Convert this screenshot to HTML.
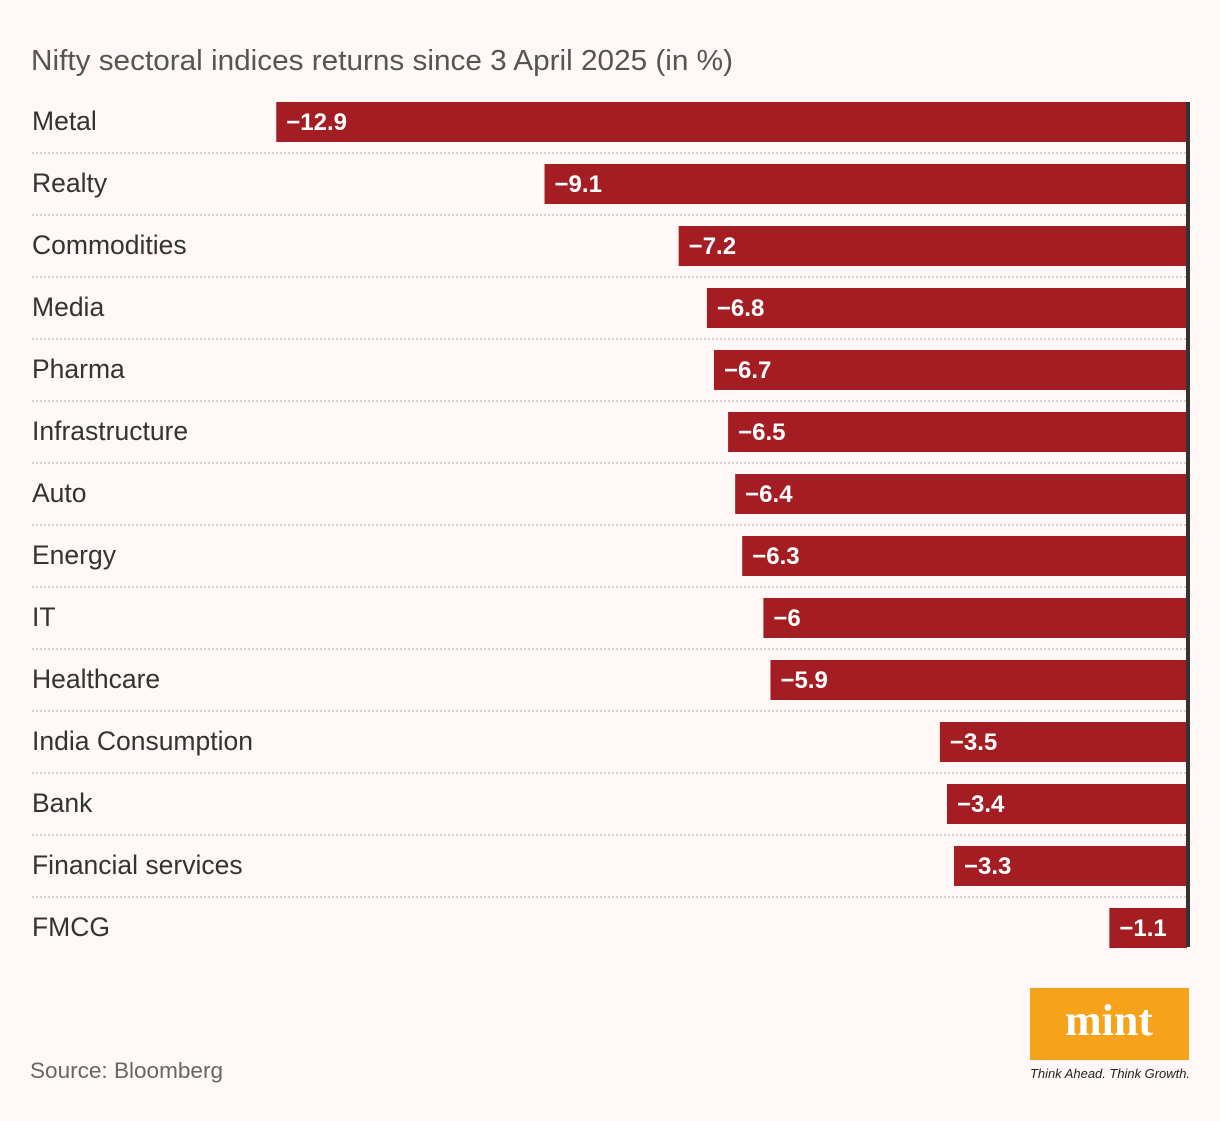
<!DOCTYPE html>
<html><head><meta charset="utf-8"><style>
body{margin:0;background:#fff8f7;width:1220px;height:1116px;overflow:hidden;font-family:"Liberation Sans",sans-serif;}
</style></head><body>
<svg id="chart" width="1220" height="1116" xmlns="http://www.w3.org/2000/svg">
<rect width="1220" height="1116" fill="#fff8f7"/>
<text x="31" y="70" font-size="29" fill="#555" textLength="702" lengthAdjust="spacingAndGlyphs" font-family="Liberation Sans, sans-serif">Nifty sectoral indices returns since 3 April 2025 (in %)</text>
<g id="rows"></g>
<rect x="1186" y="102" width="4" height="845" fill="#333"/>
<text x="30" y="1078" font-size="22" fill="#666" textLength="193" lengthAdjust="spacingAndGlyphs">Source: Bloomberg</text>
<g>
<rect x="1030" y="988" width="159" height="72" fill="#f7a21b"/>
<text x="1109" y="1035" font-size="44" font-weight="bold" fill="#fff" text-anchor="middle" font-family="Liberation Serif, serif">mint</text>
<text x="1110" y="1078" font-size="12.5" font-style="italic" fill="#222" text-anchor="middle" textLength="160" lengthAdjust="spacingAndGlyphs">Think Ahead. Think Growth.</text>
</g>
</svg>
<script>
const categories=["Metal","Realty","Commodities","Media","Pharma","Infrastructure","Auto","Energy","IT","Healthcare","India Consumption","Bank","Financial services","FMCG"];
const values=[-12.9,-9.1,-7.2,-6.8,-6.7,-6.5,-6.4,-6.3,-6,-5.9,-3.5,-3.4,-3.3,-1.1];
const labels=["−12.9","−9.1","−7.2","−6.8","−6.7","−6.5","−6.4","−6.3","−6","−5.9","−3.5","−3.4","−3.3","−1.1"];
const zeroX=1187, pxPerUnit=70.6, top0=102, pitch=62, barH=40;
const x=v=>zeroX+v*pxPerUnit;
const y=i=>top0+i*pitch;
const ns="http://www.w3.org/2000/svg";
const g=document.getElementById("rows");
categories.forEach((c,i)=>{
  const t=document.createElementNS(ns,"text");
  
  
  t.setAttribute("x",32);t.setAttribute("y",y(i)+28);t.setAttribute("font-size","26.5");t.setAttribute("fill","#333");
  t.textContent=c;g.appendChild(t);
  const r=document.createElementNS(ns,"rect");
  
  
  const x0=x(values[i]);
  r.setAttribute("x",x0);r.setAttribute("y",y(i));r.setAttribute("width",zeroX-x0);r.setAttribute("height",barH);r.setAttribute("fill","#a31d22");
  g.appendChild(r);
  const v=document.createElementNS(ns,"text");
  
  
  v.setAttribute("x",x0+10);v.setAttribute("y",y(i)+28);v.setAttribute("font-size","24");v.setAttribute("font-weight","bold");v.setAttribute("fill","#fff");
  v.textContent=labels[i];g.appendChild(v);
  if(i<categories.length-1){
    const l=document.createElementNS(ns,"line");
    
    
    l.setAttribute("x1",32);l.setAttribute("x2",1186);l.setAttribute("y1",y(i)+51);l.setAttribute("y2",y(i)+51);
    l.setAttribute("stroke","#d4d0cf");l.setAttribute("stroke-width","2");l.setAttribute("stroke-dasharray","2 2");
    g.appendChild(l);
  }
});
</script>
</body></html>
